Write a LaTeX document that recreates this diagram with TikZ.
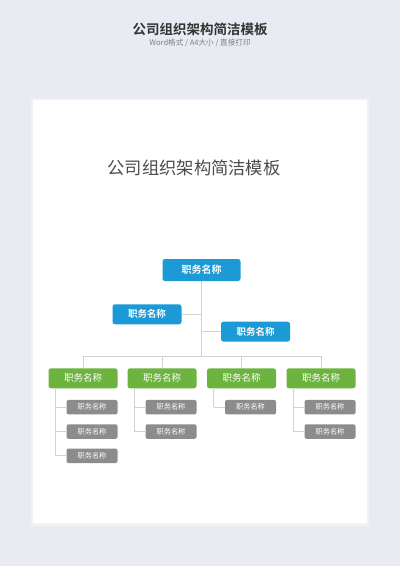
\documentclass[tikz,border=0pt]{standalone}
\usepackage{fontspec}
\setmainfont{Noto Sans CJK SC}[BoldFont={Noto Sans CJK SC Bold}]
\usetikzlibrary{positioning}
\definecolor{bgcol}{HTML}{E8EBF1}
\definecolor{bluecol}{HTML}{1B9AD6}
\definecolor{greencol}{HTML}{6DB33F}
\definecolor{graycol}{HTML}{8C8C8C}
\definecolor{linecol}{HTML}{D2D2D2}
\definecolor{headcol}{HTML}{333333}
\begin{document}
\begin{tikzpicture}[x=1pt,y=-1pt,line join=round,
  topbox/.style={fill=bluecol,text=white,rounded corners=2.5pt,minimum width=78pt,minimum height=22pt,inner sep=0pt,font=\fontsize{10}{12}\selectfont\bfseries},
  midbox/.style={fill=bluecol,text=white,rounded corners=2.5pt,minimum width=69pt,minimum height=20pt,inner sep=0pt,font=\fontsize{9.5}{11}\selectfont\bfseries},
  greenbox/.style={fill=greencol,text=white,rounded corners=2.5pt,minimum width=69pt,minimum height=20pt,inner sep=0pt,font=\fontsize{9.5}{11}\selectfont},
  graybox/.style={fill=graycol,text=white,rounded corners=2pt,minimum width=51pt,minimum height=14.5pt,inner sep=0pt,font=\fontsize{7.2}{9}\selectfont,anchor=east},
  link/.style={draw=linecol,line width=0.8pt}]
  % background and page
  \fill[bgcol] (0,0) rectangle (400,566);
  \fill[black!5] (31,99) rectangle (369,526);
  \fill[white] (32.7,100) rectangle (367,523);
  \useasboundingbox (0,0) rectangle (400,566);
  % header
  \node[text=headcol,font=\fontsize{13.5}{15}\selectfont\bfseries] (head) at (200,29) {公司组织架构简洁模板};
  \node[text=black!50,font=\fontsize{7.6}{9}\selectfont] (sub) at (200,43) {Word格式 / A4大小 / 直接打印};
  \node[text=black!70,font=\fontsize{17.3}{19}\selectfont] (title) at (194,168) {公司组织架构简洁模板};
  % upper part
  \node[topbox] (gm) at (201.5,270) {职务名称};
  \node[midbox] (vl) at (147,314.3) {职务名称};
  \node[midbox] (vr) at (255.5,331.7) {职务名称};
  \coordinate (bus) at (201.5,356);
  \draw[link] (gm) -- (bus);
  \draw[link] (vl.east) -- (vl.east -| gm);
  \draw[link] (vr.west) -- (vr.west -| gm);
  % departments
  \foreach \x/\n in {83/a,162/b,241.5/c,321/d}
    \node[greenbox] (g\n) at (\x,378.3) {职务名称};
  \draw[link] (ga |- bus) -- (gd |- bus);
  \foreach \n in {a,b,c,d}
    \draw[link] (g\n.north) -- (g\n |- bus);
  % staff
  \foreach \n/\k in {a/3,b/2,c/1,d/2}{
    \foreach \i in {1,...,\k}
      \node[graybox] (s\n\i) at ([yshift={(5.6-24.3*\i)*1pt}]g\n.south east) {职务名称};
    \coordinate (t\n) at ([xshift=7pt]g\n.south west);
    \draw[link] (t\n) -- (t\n |- s\n\k.west);
    \foreach \i in {1,...,\k}
      \draw[link] (t\n |- s\n\i.west) -- (s\n\i.west);
  }
\end{tikzpicture}
\end{document}
